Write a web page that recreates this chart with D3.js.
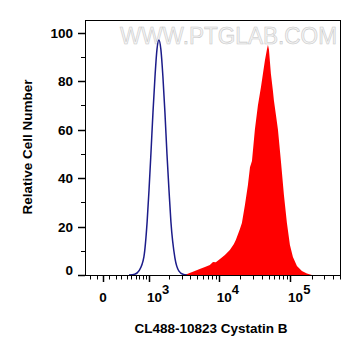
<!DOCTYPE html>
<html><head><meta charset="utf-8">
<script src="https://cdn.jsdelivr.net/npm/d3@7"></script>
<style>html,body{margin:0;padding:0;background:#fff;}svg{display:block;}</style>
</head><body>
<script>
// Control (unstained) histogram: [fluorescence, relative count]
const controlData = [[450,0],[580,0.3],[690,1.8],[830,7.5],[935,22],[1000,35],[1070,50],[1150,67],[1235,82],[1320,93],[1410,97],[1510,93],[1615,82],[1730,67],[1850,50],[1980,35],[2110,22],[2410,7],[2750,1.6],[3130,0.3],[3560,0]];
// Stained (CL488-10823 Cystatin B) histogram
const stainedData = [[3300,0],[3900,0.8],[4600,1.6],[5400,2.5],[6400,3.3],[7500,4.1],[8300,5.4],[9100,5.3],[10400,6.6],[12200,8.2],[14300,10.3],[16300,12.8],[17400,14.5],[19800,19],[21100,21.5],[23300,29],[25600,37],[27400,44.5],[29200,47],[32100,60],[35400,70],[39000,77.5],[41600,83],[44400,88.6],[47300,93],[48900,95],[50500,93],[53800,83],[57400,76],[59300,72],[63300,66],[67500,60],[74300,47],[81900,33],[90200,21.5],[99400,12.4],[109500,7.4],[124600,3.7],[146300,1.6],[172000,0.6],[202000,0]];
const yTicks = [0,20,40,60,80,100];
const yMinorTicks = [10,30,50,70,90];
const xMajorTicks = [{v:0,label:"0",exp:""},{v:1e3,label:"10",exp:"3"},{v:1e4,label:"10",exp:"4"},{v:1e5,label:"10",exp:"5"}];
const xMinorTicks = [-200,-100,100,200,300,400,500,600,700,800,900,2000,3000,4000,5000,6000,7000,8000,9000,20000,30000,40000,50000,60000,70000,80000,90000,200000,300000,400000,500000];
const xLabel = "CL488-10823 Cystatin B";
const yLabel = "Relative Cell Number";
const watermark = "WWW.PTGLAB.COM";

const W = 361, H = 356;
const L = 85, R = 340, T = 20, B = 275;
const C = 477;
const tf = v => Math.asinh(v / C);
const x = d3.scaleLinear().domain([tf(-292), tf(5.0e5)]).range([L, R]);
const X = v => x(tf(v));
const y = d3.scaleLinear().domain([0, 105.2]).range([B, T]);

const svg = d3.select("body").append("svg").attr("width", W).attr("height", H);
const font = "'Liberation Sans', Arial, sans-serif";

// watermark
svg.append("text").attr("x", 120).attr("y", 44)
  .attr("textLength", 217).attr("lengthAdjust", "spacingAndGlyphs")
  .style("font-family", font).style("font-size", "24px")
  .attr("fill", "#f4f4f4").attr("stroke", "#c8c8c8").attr("stroke-width", 0.6)
  .text(watermark);

// stained area
svg.append("path").datum(stainedData)
  .attr("d", d3.area().x(d => X(d[0])).y0(y(0)).y1(d => y(d[1])).curve(d3.curveLinear))
  .attr("fill", "#ff0000");

// control line
svg.append("path").datum(controlData)
  .attr("d", d3.line().x(d => X(d[0])).y(d => y(d[1])).curve(d3.curveMonotoneX))
  .attr("fill", "none").attr("stroke", "#1c1c8a").attr("stroke-width", 1.5);

// frame
svg.append("rect").attr("x", L + 0.5).attr("y", T + 0.5).attr("width", R - L).attr("height", B - T)
  .attr("fill", "none").attr("stroke", "#000").attr("stroke-width", 1);

// y axis ticks
const yg = svg.append("g");
yg.selectAll("line.maj").data(yTicks).join("line")
  .attr("x1", L - 7).attr("x2", L).attr("y1", d => Math.round(y(d)) + 0.5).attr("y2", d => Math.round(y(d)) + 0.5)
  .attr("stroke", "#000").attr("stroke-width", 1.5);
yg.selectAll("line.min").data(yMinorTicks).join("line")
  .attr("x1", L - 4).attr("x2", L).attr("y1", d => Math.round(y(d)) + 0.5).attr("y2", d => Math.round(y(d)) + 0.5)
  .attr("stroke", "#000").attr("stroke-width", 1);
yg.selectAll("text").data(yTicks).join("text")
  .attr("x", 73).attr("y", d => y(d) + (d === 0 ? 0 : 5)).attr("text-anchor", "end")
  .style("font-family", font).style("font-size", "13.5px").style("font-weight", "bold")
  .text(d => d);

// x axis ticks
const xg = svg.append("g");
xg.selectAll("line.maj").data(xMajorTicks).join("line")
  .attr("x1", d => Math.round(X(d.v)) + 0.5).attr("x2", d => Math.round(X(d.v)) + 0.5)
  .attr("y1", B + 1).attr("y2", B + 7).attr("stroke", "#000").attr("stroke-width", 1.5);
xg.selectAll("line.min").data(xMinorTicks).join("line")
  .attr("x1", d => Math.round(X(d)) + 0.5).attr("x2", d => Math.round(X(d)) + 0.5)
  .attr("y1", B + 1).attr("y2", B + 4.5).attr("stroke", "#000").attr("stroke-width", 1);
const lab = xg.selectAll("text").data(xMajorTicks).join("text")
  .attr("x", d => d.exp ? X(d.v) - 2 : X(d.v)).attr("y", 302)
  .attr("text-anchor", d => d.exp ? "start" : "middle")
  .style("font-family", font).style("font-size", "13.5px").style("font-weight", "bold");
lab.append("tspan").text(d => d.label);
lab.filter(d => d.exp).append("tspan").attr("dy", -8).style("font-size", "13px").text(d => d.exp);

// axis titles
svg.append("text").attr("x", 211).attr("y", 333).attr("text-anchor", "middle")
  .style("font-family", font).style("font-size", "13.5px").style("font-weight", "bold")
  .text(xLabel);
svg.append("text").attr("transform", "translate(32,147) rotate(-90)").attr("text-anchor", "middle")
  .style("font-family", font).style("font-size", "13.5px").style("font-weight", "bold")
  .text(yLabel);
</script>
</body></html>
